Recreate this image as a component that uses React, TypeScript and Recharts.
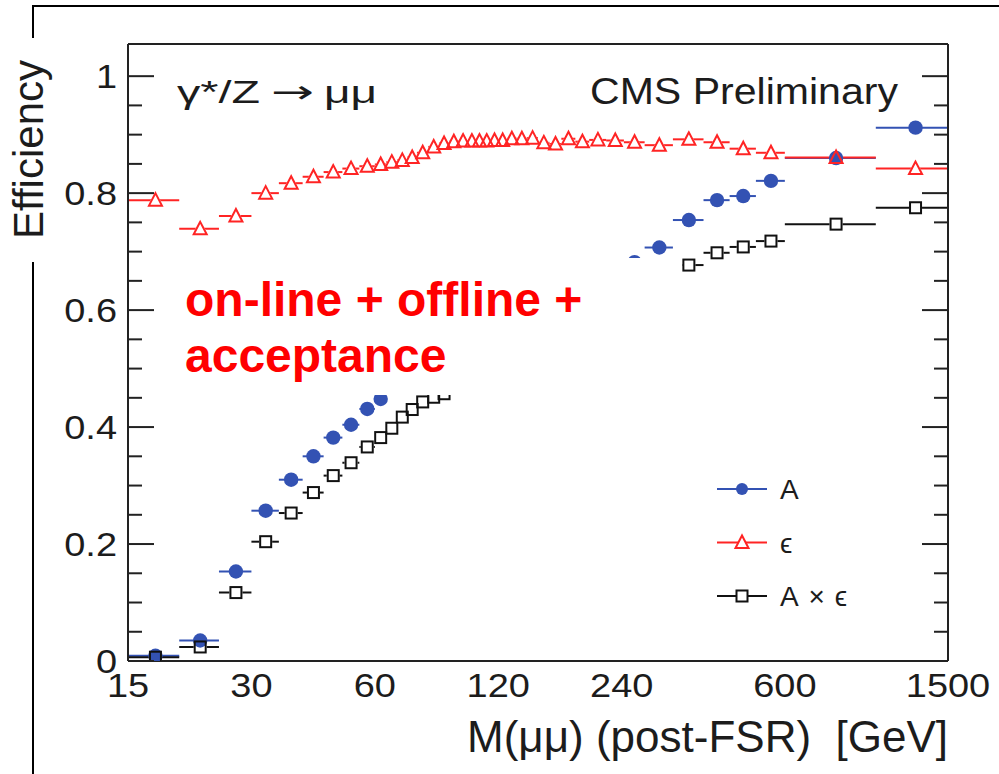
import React from 'react';
import { ScatterChart, Scatter, XAxis, YAxis, ErrorBar, ReferenceLine, Legend } from 'recharts';

const FONT = "'Liberation Sans', Arial, Helvetica, sans-serif";
const BLUE = '#3352b3';
const RED = '#ff2424';
const BLACK = '#111111';
const AXIS = '#222222';
const TEXT = '#1c1c1c';
const LABEL_STRETCH = 1.15;

// Dimuon invariant-mass bin edges [GeV], 40 bins
const massBinEdges = [
  15, 20, 25, 30, 35, 40, 45, 50, 55, 60, 64, 68, 72, 76, 81, 86, 91, 96, 101, 106,
  110, 115, 120, 126, 133, 141, 150, 160, 171, 185, 200, 220, 243, 273, 320, 380,
  440, 510, 600, 1000, 1500,
];

// Acceptance A per bin (null: bin sits under the annotation box)
const acceptanceValues = [
  0.009, 0.035, 0.153, 0.257, 0.31, 0.35, 0.382, 0.404, 0.431, 0.448,
  null, null, null, null, null, null, null, null, null, null,
  null, null, null, null, null, null, null, null, null, null,
  null, null, 0.682, 0.707, 0.754, 0.788, 0.795, 0.821, 0.86, 0.912,
];

// Efficiency epsilon per bin
const efficiencyValues = [
  0.788, 0.739, 0.761, 0.8, 0.817, 0.828, 0.836, 0.842, 0.846, 0.849,
  0.853, 0.856, 0.861, 0.869, 0.879, 0.885, 0.888, 0.889, 0.889, 0.889,
  0.889, 0.89, 0.89, 0.893, 0.893, 0.894, 0.886, 0.884, 0.893, 0.888,
  0.891, 0.89, 0.887, 0.882, 0.892, 0.887, 0.876, 0.869, 0.861, 0.842,
];

// Acceptance x efficiency per bin (null: bin sits under the annotation box)
const accTimesEffValues = [
  0.0065, 0.024, 0.117, 0.204, 0.253, 0.288, 0.317, 0.339, 0.366, 0.382,
  0.398, 0.417, 0.43, 0.443, 0.451, 0.457, null, null, null, null,
  null, null, null, null, null, null, null, null, null, null,
  null, null, null, null, 0.677, 0.698, 0.708, 0.718, 0.747, 0.775,
];

const xTickValues = [15, 30, 60, 120, 240, 600, 1500];
const yTickValues = [
  0, 0.05, 0.1, 0.15, 0.2, 0.25, 0.3, 0.35, 0.4, 0.45, 0.5,
  0.55, 0.6, 0.65, 0.7, 0.75, 0.8, 0.85, 0.9, 0.95, 1,
];
const Y_MAX = 1.055;

const legendEntries = [
  { label: 'A', color: BLUE, marker: 'circle', span: 0 },
  { label: 'ϵ', color: RED, marker: 'triangle', span: 0 },
  { label: 'A×ϵ', color: BLACK, marker: 'square', span: 67 },
];

type Pt = { x: number; y: number; xErr: [number, number] };

function toPoints(values: (number | null)[]): Pt[] {
  const pts: Pt[] = [];
  values.forEach((v, i) => {
    if (v == null) return;
    const lo = massBinEdges[i];
    const hi = massBinEdges[i + 1];
    const c = (lo + hi) / 2;
    pts.push({ x: c, y: v, xErr: [c - lo, hi - c] });
  });
  return pts;
}

const accPoints = toPoints(acceptanceValues);
const effPoints = toPoints(efficiencyValues);
const accEffPoints = toPoints(accTimesEffValues);

// Marker outlines
function trianglePath(cx: number, cy: number) {
  return `${cx},${cy - 7} ${cx - 6.5},${cy + 5.5} ${cx + 6.5},${cy + 5.5}`;
}

const MarkerCircle = (p: any) => <circle cx={p.cx} cy={p.cy} r={7.2} fill={BLUE} />;
const MarkerTriangle = (p: any) => (
  <polygon points={trianglePath(p.cx, p.cy)} fill="none" stroke={RED} strokeWidth={2} />
);
const MarkerSquare = (p: any) => (
  <rect x={p.cx - 5.5} y={p.cy - 5.5} width={11} height={11} fill="none" stroke={BLACK} strokeWidth={2} />
);

// White fills that open a gap in the bin-width bars behind hollow markers
const KnockNone = () => <g />;
const KnockTriangle = (p: any) => <polygon points={trianglePath(p.cx, p.cy)} fill="#fff" stroke="#fff" strokeWidth={2} />;
const KnockSquare = (p: any) => (
  <rect x={p.cx - 6.5} y={p.cy - 6.5} width={13} height={13} fill="#fff" />
);

function formatY(v: number) {
  if (v === 0) return '0';
  if (v === 1) return '1';
  return v.toFixed(1);
}

const isMajor = (v: number) => Math.round(v * 100) % 20 === 0;

const LeftTick = (props: any) => {
  const { x, y, payload } = props;
  const v = payload.value;
  const major = isMajor(v);
  return (
    <g>
      <line x1={x} x2={x + (major ? 26 : 14)} y1={y} y2={y} stroke={AXIS} strokeWidth={2} />
      {major && (
        <text
          transform={`translate(${x - 11} ${y}) scale(${LABEL_STRETCH} 1)`}
          x={0}
          y={0}
          dy={12}
          textAnchor="end"
          fontSize={33}
          fontFamily={FONT}
          fill={TEXT}
        >
          {formatY(v)}
        </text>
      )}
    </g>
  );
};

const RightTick = (props: any) => {
  const { x, y, payload } = props;
  const major = isMajor(payload.value);
  return <line x1={x} x2={x - (major ? 26 : 14)} y1={y} y2={y} stroke={AXIS} strokeWidth={2} />;
};

const BottomTick = (props: any) => {
  const { x, y, payload } = props;
  return (
    <text
      transform={`translate(${x} ${y + 36}) scale(${LABEL_STRETCH} 1)`}
      x={0}
      y={0}
      textAnchor="middle"
      fontSize={33}
      fontFamily={FONT}
      fill={TEXT}
    >
      {payload.value}
    </text>
  );
};

const LegendBox = () => (
  <svg width={200} height={160}>
    {legendEntries.map((e, i) => {
      const cy = 29 + i * 53.5;
      const cx = 42;
      return (
        <g key={e.label}>
          <line x1={17} x2={67} y1={cy} y2={cy} stroke={e.color} strokeWidth={2} />
          {e.marker === 'circle' && <circle cx={cx} cy={cy} r={6} fill={e.color} />}
          {e.marker === 'triangle' && (
            <polygon points={trianglePath(cx, cy)} fill="#fff" stroke={e.color} strokeWidth={2} />
          )}
          {e.marker === 'square' && (
            <rect x={cx - 5.5} y={cy - 5.5} width={11} height={11} fill="#fff" stroke={e.color} strokeWidth={2} />
          )}
          <text
            x={80}
            y={cy + 10}
            fontSize={28}
            fontFamily={FONT}
            fill={TEXT}
            {...(e.span ? { textLength: e.span, lengthAdjust: 'spacing' } : {})}
          >
            {e.label}
          </text>
        </g>
      );
    })}
  </svg>
);

export default function App() {
  return (
    <div style={{ position: 'absolute', left: 0, top: 0, width: 999, height: 774, background: '#fff' }}>
      <ScatterChart width={999} height={774} margin={{ top: 44, right: 11, bottom: 53, left: 28 }}>
        <XAxis
          type="number"
          dataKey="x"
          scale="log"
          domain={[15, 1500]}
          allowDataOverflow
          ticks={xTickValues}
          interval={0}
          tickLine={false}
          tickSize={0}
          tickMargin={0}
          height={60}
          axisLine={{ stroke: AXIS, strokeWidth: 2 }}
          tick={BottomTick}
        />
        <YAxis
          yAxisId="left"
          type="number"
          dataKey="y"
          domain={[0, Y_MAX]}
          allowDataOverflow
          ticks={yTickValues}
          interval={0}
          tickLine={false}
          tickSize={0}
          tickMargin={0}
          width={100}
          axisLine={{ stroke: AXIS, strokeWidth: 2 }}
          tick={LeftTick}
        />
        <YAxis
          yAxisId="right"
          orientation="right"
          type="number"
          domain={[0, Y_MAX]}
          allowDataOverflow
          ticks={yTickValues}
          interval={0}
          tickLine={false}
          tickSize={0}
          tickMargin={0}
          width={40}
          axisLine={{ stroke: AXIS, strokeWidth: 2 }}
          tick={RightTick}
        />
        <ReferenceLine yAxisId="left" y={Y_MAX} stroke={AXIS} strokeWidth={2} ifOverflow="visible" />

        {/* bin-width bars */}
        <Scatter yAxisId="left" data={accPoints} shape={KnockNone} isAnimationActive={false} legendType="none">
          <ErrorBar dataKey="xErr" direction="x" width={0} stroke={BLUE} strokeWidth={2} />
        </Scatter>
        <Scatter yAxisId="left" data={effPoints} shape={KnockTriangle} isAnimationActive={false} legendType="none">
          <ErrorBar dataKey="xErr" direction="x" width={0} stroke={RED} strokeWidth={2} />
        </Scatter>
        <Scatter yAxisId="left" data={accEffPoints} shape={KnockSquare} isAnimationActive={false} legendType="none">
          <ErrorBar dataKey="xErr" direction="x" width={0} stroke={BLACK} strokeWidth={2} />
        </Scatter>

        {/* markers */}
        <Scatter yAxisId="left" name="A" data={accPoints} shape={MarkerCircle} isAnimationActive={false} />
        <Scatter yAxisId="left" name="ϵ" data={effPoints} shape={MarkerTriangle} isAnimationActive={false} />
        <Scatter yAxisId="left" name="A×ϵ" data={accEffPoints} shape={MarkerSquare} isAnimationActive={false} />

        <Legend
          layout="vertical"
          align="center"
          verticalAlign="middle"
          content={LegendBox}
          wrapperStyle={{ position: 'absolute', left: 700, top: 460, width: 200, height: 160 }}
        />
      </ScatterChart>

      <svg
        width={999}
        height={774}
        style={{ position: 'absolute', left: 0, top: 0, pointerEvents: 'none' }}
      >
        {/* outer frame */}
        <line x1={33} y1={6} x2={999} y2={6} stroke="#000" strokeWidth={2} />
        <line x1={33} y1={5} x2={33} y2={38} stroke="#000" strokeWidth={2} />
        <line x1={33} y1={262} x2={33} y2={774} stroke="#000" strokeWidth={2} />

        <text
          x={43}
          y={60}
          transform="rotate(-90 43 60)"
          textAnchor="end"
          fontSize={42}
          fontFamily={FONT}
          fill={TEXT}
        >
          Efficiency
        </text>
        <text
          x={948}
          y={752}
          textAnchor="end"
          fontSize={44}
          fontFamily={FONT}
          fill={TEXT}
          style={{ whiteSpace: 'pre' }}
        >
          {'M(μμ) (post-FSR)  [GeV]'}
        </text>

        {/* process label */}
        <text x={177} y={103} fontSize={32} fontFamily={FONT} fill={TEXT} textLength={83} lengthAdjust="spacingAndGlyphs">
          γ*/Z
        </text>
        <text x={271} y={103} fontSize={32} fontFamily="'DejaVu Sans', sans-serif" fill={TEXT} textLength={43} lengthAdjust="spacingAndGlyphs">
          →
        </text>
        <text x={324} y={103} fontSize={32} fontFamily={FONT} fill={TEXT} textLength={53} lengthAdjust="spacingAndGlyphs">
          μμ
        </text>

        <text x={590} y={104} fontSize={37} fontFamily={FONT} fill={TEXT} textLength={308} lengthAdjust="spacingAndGlyphs">
          CMS Preliminary
        </text>

        <rect x={180} y={258} width={502} height={137} fill="#fff" />
        <text x={185} y={316} fontSize={48} fontWeight="bold" fontFamily={FONT} fill="#ff0000">
          on-line + offline +
        </text>
        <text x={185} y={372} fontSize={48} fontWeight="bold" fontFamily={FONT} fill="#ff0000">
          acceptance
        </text>
      </svg>
    </div>
  );
}
